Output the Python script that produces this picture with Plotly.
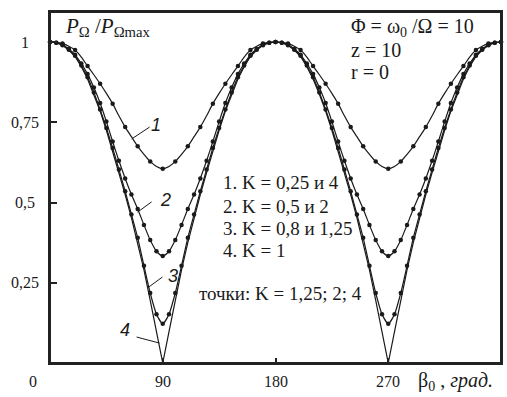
import plotly.graph_objects as go

# beta_0, degrees
beta = [0, 5, 10, 15, 20, 25, 30, 35, 40, 45, 50, 55, 60, 65, 70, 75, 80, 85, 90,
        95, 100, 105, 110, 115, 120, 125, 130, 135, 140, 145, 150, 155, 160, 165, 170, 175, 180,
        185, 190, 195, 200, 205, 210, 215, 220, 225, 230, 235, 240, 245, 250, 255, 260, 265, 270,
        275, 280, 285, 290, 295, 300, 305, 310, 315, 320, 325, 330, 335, 340, 345, 350, 355, 360]

# curve 1: K = 0,25 and 4
c1 = [1.000, 0.999, 0.995, 0.987, 0.975, 0.953, 0.925, 0.898, 0.870, 0.840, 0.808, 0.770, 0.735, 0.705, 0.675, 0.650, 0.628, 0.612, 0.605,
      0.612, 0.628, 0.650, 0.675, 0.705, 0.735, 0.770, 0.808, 0.840, 0.870, 0.898, 0.925, 0.953, 0.975, 0.987, 0.995, 0.999, 1.000,
      0.999, 0.995, 0.987, 0.975, 0.953, 0.925, 0.898, 0.870, 0.840, 0.808, 0.770, 0.735, 0.705, 0.675, 0.650, 0.628, 0.612, 0.605,
      0.612, 0.628, 0.650, 0.675, 0.705, 0.735, 0.770, 0.808, 0.840, 0.870, 0.898, 0.925, 0.953, 0.975, 0.987, 0.995, 0.999, 1.000]
# curve 2: K = 0,5 and 2
c2 = [1.000, 0.998, 0.992, 0.978, 0.960, 0.933, 0.900, 0.858, 0.810, 0.752, 0.690, 0.630, 0.575, 0.525, 0.480, 0.430, 0.383, 0.348, 0.333,
      0.348, 0.383, 0.430, 0.480, 0.525, 0.575, 0.630, 0.690, 0.752, 0.810, 0.858, 0.900, 0.933, 0.960, 0.978, 0.992, 0.998, 1.000,
      0.998, 0.992, 0.978, 0.960, 0.933, 0.900, 0.858, 0.810, 0.752, 0.690, 0.630, 0.575, 0.525, 0.480, 0.430, 0.383, 0.348, 0.333,
      0.348, 0.383, 0.430, 0.480, 0.525, 0.575, 0.630, 0.690, 0.752, 0.810, 0.858, 0.900, 0.933, 0.960, 0.978, 0.992, 0.998, 1.000]
# curve 3: K = 0,8 and 1,25
c3 = [1.000, 0.998, 0.990, 0.976, 0.957, 0.927, 0.890, 0.843, 0.790, 0.732, 0.670, 0.603, 0.535, 0.463, 0.390, 0.303, 0.218, 0.152, 0.122,
      0.152, 0.218, 0.303, 0.390, 0.463, 0.535, 0.603, 0.670, 0.732, 0.790, 0.843, 0.890, 0.927, 0.957, 0.976, 0.990, 0.998, 1.000,
      0.998, 0.990, 0.976, 0.957, 0.927, 0.890, 0.843, 0.790, 0.732, 0.670, 0.603, 0.535, 0.463, 0.390, 0.303, 0.218, 0.152, 0.122,
      0.152, 0.218, 0.303, 0.390, 0.463, 0.535, 0.603, 0.670, 0.732, 0.790, 0.843, 0.890, 0.927, 0.957, 0.976, 0.990, 0.998, 1.000]
# curve 4: K = 1
c4 = [1.000, 0.998, 0.990, 0.975, 0.955, 0.923, 0.885, 0.837, 0.785, 0.725, 0.660, 0.593, 0.525, 0.452, 0.375, 0.290, 0.195, 0.098, 0.000,
      0.098, 0.195, 0.290, 0.375, 0.452, 0.525, 0.593, 0.660, 0.725, 0.785, 0.837, 0.885, 0.923, 0.955, 0.975, 0.990, 0.998, 1.000,
      0.998, 0.990, 0.975, 0.955, 0.923, 0.885, 0.837, 0.785, 0.725, 0.660, 0.593, 0.525, 0.452, 0.375, 0.290, 0.195, 0.098, 0.000,
      0.098, 0.195, 0.290, 0.375, 0.452, 0.525, 0.593, 0.660, 0.725, 0.785, 0.837, 0.885, 0.923, 0.955, 0.975, 0.990, 0.998, 1.000]

x_ticks = [90, 180, 270]
x_tick_labels = ["90", "180", "270"]
y_ticks = [0.25, 0.5, 0.75, 1]
y_tick_labels = ["0,25", "0,5", "0,75", "1"]

SERIF = "Liberation Serif"
XMAX = 360.0
YMAX = 1.0935
INK = "#1a1a1a"

fig = go.Figure()

for ys, shape in [(c1, "spline"), (c2, "spline"), (c3, "spline"), (c4, "linear")]:
    fig.add_trace(go.Scatter(x=beta, y=ys, mode="lines",
                             line=dict(color=INK, width=1.2, shape=shape, smoothing=0.6),
                             showlegend=False, hoverinfo="skip", cliponaxis=False))
# dots (calculated points, K = 1,25; 2; 4)
fig.add_trace(go.Scatter(x=beta[::2], y=c1[::2], mode="markers",
                         marker=dict(color=INK, size=4.5), showlegend=False, cliponaxis=False))
for ys in (c2, c3):
    fig.add_trace(go.Scatter(x=beta, y=ys, mode="markers",
                             marker=dict(color=INK, size=4.5), showlegend=False, cliponaxis=False))

ann = []
def txt(x, y, t, size=16, xanchor="left", font=SERIF, italic=False, paper=False):
    ann.append(dict(x=x, y=y, text=t, showarrow=False, xanchor=xanchor, yanchor="middle",
                    xref="paper" if paper else "x", yref="paper" if paper else "y",
                    font=dict(family=font, size=size, color=INK,
                              style="italic" if italic else "normal")))

txt(10.5, 1.047, "<i>P</i><sub>Ω</sub> /<i>P</i><sub>Ωmax</sub>", size=21)
txt(238.4, 1.044, "Φ = ω<sub>0</sub> /Ω = 10", size=20)
txt(238.4, 0.975, "z = 10", size=20)
txt(238.4, 0.907, "r = 0", size=20)
txt(136.7, 0.561, "1. K = 0,25 и 4", size=19)
txt(136.7, 0.489, "2. K = 0,5 и 2", size=19)
txt(136.7, 0.420, "3. K = 0,8 и 1,25", size=19)
txt(136.7, 0.349, "4. K = 1", size=19)
txt(117.0, 0.215, "точки: K = 1,25; 2; 4", size=19)

for x, y, t in [(85, 0.741, "1"), (92.2, 0.508, "2"), (97.8, 0.271, "3"), (59.6, 0.103, "4")]:
    txt(x, y, t, size=18, xanchor="center", font="Liberation Sans", italic=True)

# tick labels (paper coordinates: outside the plotting area)
YLAB = -0.059 / YMAX
for v, lab in zip(x_ticks, x_tick_labels):
    txt(v / XMAX, YLAB, lab, size=16, xanchor="center", paper=True)
txt(-13.5 / XMAX, YLAB, "0", size=16, xanchor="center", paper=True)
for v, lab in zip(y_ticks, y_tick_labels):
    txt(-20 / XMAX, v / YMAX, lab, size=16, xanchor="center", paper=True)
txt(292.5 / XMAX, YLAB, "β<sub>0</sub> , <i>град.</i>", size=20, paper=True)

shapes = [dict(type="rect", xref="paper", yref="paper", x0=0, y0=0, x1=1, y1=1,
               line=dict(color="#222", width=2), fillcolor="rgba(0,0,0,0)", layer="above")]
for (xa, ya, xb, yb) in [(79.5, 0.735, 65.2, 0.698), (81.1, 0.502, 69.9, 0.470),
                         (89.8, 0.268, 77.9, 0.234), (69.1, 0.081, 87.4, 0.062)]:
    shapes.append(dict(type="line", x0=xa, y0=ya, x1=xb, y1=yb,
                       line=dict(color=INK, width=1)))

fig.update_layout(
    width=507, height=397,
    margin=dict(l=50, r=4, t=12, b=34),
    plot_bgcolor="white", paper_bgcolor="white",
    annotations=ann, shapes=shapes,
    xaxis=dict(range=[0, XMAX], tickvals=x_ticks, showticklabels=False, ticks="inside",
               ticklen=5, tickcolor="#222", tickwidth=1.5, showgrid=False, zeroline=False,
               showline=True, linecolor="#222", linewidth=2, mirror=True),
    yaxis=dict(range=[0, YMAX], tickvals=y_ticks, showticklabels=False, ticks="inside",
               ticklen=7, tickcolor="#222", tickwidth=1.5, showgrid=False, zeroline=False,
               showline=True, linecolor="#222", linewidth=2, mirror=True),
)

fig.write_html("out.html", config={"displayModeBar": False},
               post_script="document.body.style.margin='0';")
